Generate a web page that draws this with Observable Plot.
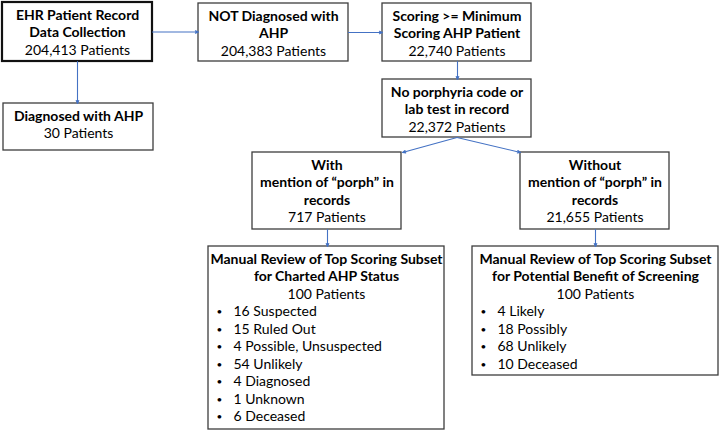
<!DOCTYPE html>
<html>
<head>
<meta charset="utf-8">
<script src="https://cdn.jsdelivr.net/npm/d3@7"></script>
<script src="https://cdn.jsdelivr.net/npm/@observablehq/plot@0.6"></script>
<style>
  html, body { margin: 0; padding: 0; background: #fff; }
  #chart { width: 720px; height: 430px; }
</style>
</head>
<body>
<div id="chart"></div>
<script>
// ---- Data ----
const boxTitles = [
  ["EHR Patient Record", "Data Collection"],
  ["Diagnosed with AHP"],
  ["NOT Diagnosed with", "AHP"],
  ["Scoring >= Minimum", "Scoring AHP Patient"],
  ["No porphyria code or", "lab test in record"],
  ["With", "mention of \u201Cporph\u201D in", "records"],
  ["Without", "mention of \u201Cporph\u201D in", "records"],
  ["Manual Review of Top Scoring Subset", "for Charted AHP Status"],
  ["Manual Review of Top Scoring Subset", "for Potential Benefit of Screening"]
];
const patientCounts = [204413, 30, 204383, 22740, 22372, 717, 21655, 100, 100];
const chartedLabels = ["Suspected", "Ruled Out", "Possible, Unsuspected", "Unlikely", "Diagnosed", "Unknown", "Deceased"];
const chartedValues = [16, 15, 4, 54, 4, 1, 6];
const benefitLabels = ["Likely", "Possibly", "Unlikely", "Deceased"];
const benefitValues = [4, 18, 68, 10];

// ---- Layout (pixel space of the diagram) ----
const boxLayout = [
  {x1: 2,   x2: 152, y1: 2,   y2: 61},
  {x1: 3,   x2: 153, y1: 103, y2: 150},
  {x1: 198, x2: 348, y1: 3,   y2: 61},
  {x1: 382, x2: 531, y1: 3,   y2: 61},
  {x1: 382, x2: 531, y1: 79,  y2: 137},
  {x1: 252, x2: 401, y1: 152, y2: 229},
  {x1: 520, x2: 669, y1: 152, y2: 229},
  {x1: 208, x2: 444, y1: 246, y2: 429},
  {x1: 472, x2: 718, y1: 246, y2: 375}
];
const edges = [
  {from: 0, to: 2, kind: "h"},
  {from: 2, to: 3, kind: "h"},
  {from: 0, to: 1, kind: "v"},
  {from: 3, to: 4, kind: "v"},
  {from: 4, to: 5, kind: "dl"},
  {from: 4, to: 6, kind: "dr"},
  {from: 5, to: 7, kind: "v"},
  {from: 6, to: 8, kind: "v"}
];
const bulletLists = {7: [chartedValues, chartedLabels], 8: [benefitValues, benefitLabels]};

const fmt = d3.format(",");
const FONT = "Lato, 'Open Sans', sans-serif";
const FS = 14;
const LH = 17.5;
const TOP = 13;

const boxes = boxLayout.map((b, i) => ({...b, i, cx: (b.x1 + b.x2) / 2, cy: (b.y1 + b.y2) / 2}));

const boldLines = [], countLines = [], bulletLines = [], bulletDots = [];
boxes.forEach((b, i) => {
  let k = 0;
  boxTitles[i].forEach(t => { boldLines.push({x: b.cx, y: b.y1 + TOP + k * LH, text: t}); k++; });
  countLines.push({x: b.cx, y: b.y1 + TOP + k * LH, text: `${fmt(patientCounts[i])} Patients`}); k++;
  if (bulletLists[i]) {
    const [vals, labs] = bulletLists[i];
    vals.forEach((v, j) => {
      const y = b.y1 + TOP + k * LH;
      bulletDots.push({x: b.x1 + 11, y, text: "\u2022"});
      bulletLines.push({x: b.x1 + 25, y, text: `${v} ${labs[j]}`});
      k++;
    });
  }
});

const arrows = edges.map(e => {
  const a = boxes[e.from], b = boxes[e.to];
  if (e.kind === "h") return {x1: a.x2, y1: a.cy, x2: b.x1, y2: a.cy};
  if (e.kind === "v") return {x1: Math.round(a.cx), y1: a.y2, x2: Math.round(a.cx), y2: b.y1};
  if (e.kind === "dl") return {x1: a.cx, y1: a.y2, x2: b.x2 + 1, y2: b.y1};
  return {x1: a.cx, y1: a.y2, x2: b.x1, y2: b.y1};
});

const plot = Plot.plot({
  width: 720,
  height: 430,
  margin: 0,
  x: {domain: [0, 720], range: [0, 720], axis: null},
  y: {domain: [0, 430], range: [0, 430], axis: null},
  style: {background: "white"},
  marks: [
    Plot.rect(boxes.filter(b => b.i !== 0), {x1: "x1", x2: "x2", y1: "y1", y2: "y2", fill: "white", stroke: "#3d3d3d", strokeWidth: 1.3}),
    Plot.rect(boxes.filter(b => b.i === 0), {x1: "x1", x2: "x2", y1: "y1", y2: "y2", fill: "white", stroke: "#111", strokeWidth: 2.2}),
    Plot.arrow(arrows, {x1: "x1", y1: "y1", x2: "x2", y2: "y2", stroke: "#4472C4", strokeWidth: 1.1, headLength: 4.5, headAngle: 45, insetStart: 0, insetEnd: 0}),
    Plot.text(boldLines, {x: "x", y: "y", text: "text", fontWeight: "bold", fontSize: FS, fontFamily: FONT, fill: "#000"}),
    Plot.text(countLines, {x: "x", y: "y", text: "text", fontSize: FS, fontFamily: FONT, fill: "#000"}),
    Plot.text(bulletDots, {x: "x", y: "y", text: "text", fontSize: 10, fontFamily: FONT, fill: "#000"}),
    Plot.text(bulletLines, {x: "x", y: "y", text: "text", textAnchor: "start", fontSize: FS, fontFamily: FONT, fill: "#000"})
  ]
});
document.getElementById("chart").appendChild(plot);
</script>
</body>
</html>
